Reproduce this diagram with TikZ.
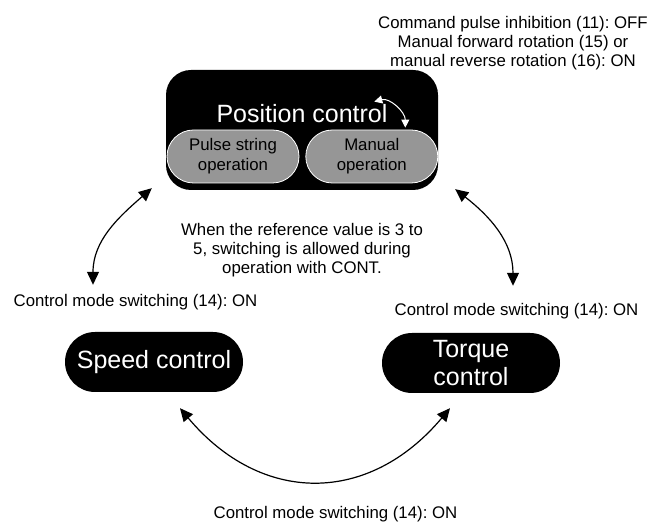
\documentclass[tikz,border=0pt]{standalone}
\usepackage{fontspec}
\setmainfont{Liberation Sans}
\usetikzlibrary{shapes.misc, arrows.meta, positioning}
\definecolor{pillgray}{RGB}{150,150,150}
\frenchspacing
\tikzset{
  modebox/.style = {
    rectangle, rounded corners=25pt, fill=black,
    minimum width=272pt, minimum height=120pt, inner sep=0pt
  },
  modetitle/.style = {
    text=white, inner sep=0pt, font=\fontsize{25}{28}\selectfont
  },
  modepill/.style = {
    rounded rectangle, fill=black, text=white,
    minimum width=178pt, minimum height=60pt, inner sep=0pt,
    font=\fontsize{25}{28}\selectfont, align=center
  },
  oppill/.style = {
    rounded rectangle, draw=white, fill=pillgray, line width=0.8pt,
    minimum width=132pt, minimum height=53pt, inner sep=0pt,
    font=\fontsize{16.8}{20}\selectfont, align=center
  },
  note/.style = {inner sep=0pt, font=\fontsize{16.8}{19}\selectfont, align=center},
  arrow/.style = {<->, >={Triangle[length=13pt, width=12pt]}, line width=1.2pt},
  warrow/.style = {<->, >={Triangle[length=8pt, width=8pt]}, line width=1pt, white}
}

\begin{document}
\begin{tikzpicture}[x=1pt, y=1pt]
  \useasboundingbox (0,0) rectangle (659,532);

  \node[modebox]   (pos)      at (302,402) {};
  \node[modetitle, anchor=base] (postitle) at (302,409) {Position control};
  \node[oppill]    (pulse)    at (233,375.5) {Pulse string\\operation};
  \node[oppill]    (manual)   [right=6pt of pulse] {Manual\\operation};

  \node[modepill]  (speed)    at (154,170) {Speed control};
  \node[modepill]  (torque)   at (471,169) {Torque\\control};

  \node[note] (cmdnote)  at (513,489) {Command pulse inhibition (11): OFF\\
    Manual forward rotation (15) or\\manual reverse rotation (16): ON};
  \node[note] (contnote) at (302,282) {When the reference value is 3 to\\
    5, switching is allowed during\\operation with CONT.};
  \node[note, anchor=base] (swleft)   at (135.5,225) {Control mode switching (14): ON};
  \node[note, anchor=base] (swright)  at (516.5,216) {Control mode switching (14): ON};
  \node[note, anchor=base] (swbottom) at (335.5,13.5) {Control mode switching (14): ON};

  \draw[arrow] ([shift={(-14,2)}]pos.south west)
      to[out=221, in=90] ([shift={(-61,47)}]speed.north);
  \draw[arrow] ([shift={(17,1)}]pos.south east)
      to[out=-38, in=90] ([shift={(42,47)}]torque.north);
  \draw[arrow] ([shift={(26,-16)}]speed.south)
      to[out=-50, in=230, looseness=1.2] ([shift={(-21,-15)}]torque.south);

  % pulse string <-> manual inside position control
  \draw[warrow] ([shift={(2.5,28)}]manual.north)
      to[out=15, in=90] ([shift={(33.5,2)}]manual.north);

\end{tikzpicture}
\end{document}
